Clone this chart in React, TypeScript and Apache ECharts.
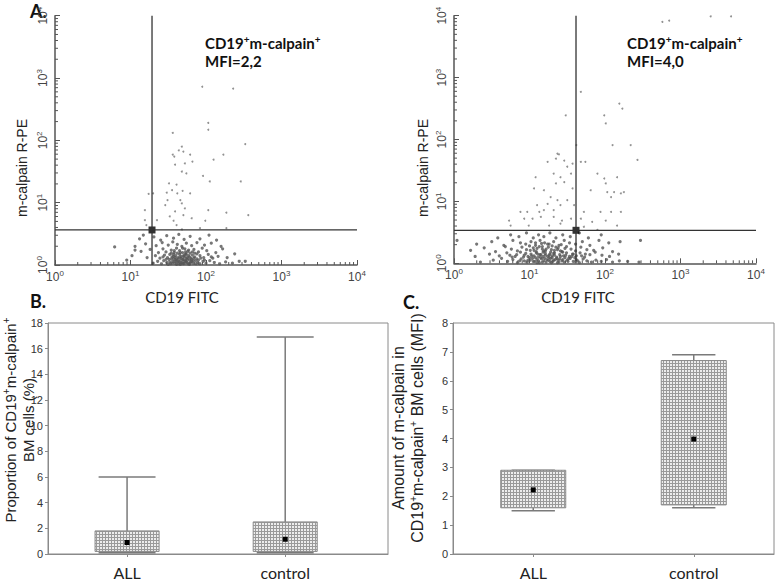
import React, { useEffect, useRef } from "react";
import * as echarts from "echarts";

// ---------- Panel A: flow cytometry events, stored as log10 exponents [log10 CD19 FITC, log10 m-calpain R-PE]
const allGate = [1.285, 0.562];
const controlGate = [1.616, 0.533];

const allEventsDense = [
  [1.30,0.03],[1.36,0.06],[1.41,0.02],[1.44,0.07],[1.48,0.04],[1.51,0.09],[1.53,0.02],[1.56,0.06],[1.58,0.03],[1.60,0.08],
  [1.62,0.05],[1.64,0.02],[1.66,0.07],[1.68,0.04],[1.70,0.09],[1.72,0.03],[1.74,0.06],[1.76,0.02],[1.78,0.08],[1.80,0.05],
  [1.83,0.03],[1.86,0.07],[1.89,0.04],[1.92,0.02],[1.96,0.06],[2.00,0.03],[2.05,0.07],[2.11,0.04],[2.18,0.02],[2.26,0.05],
  [2.35,0.03],[2.44,0.06],
  [1.22,0.12],[1.33,0.15],[1.39,0.11],[1.45,0.16],[1.49,0.12],[1.52,0.17],[1.55,0.13],[1.57,0.10],[1.60,0.15],[1.63,0.12],
  [1.65,0.17],[1.67,0.11],[1.70,0.14],[1.73,0.18],[1.75,0.12],[1.77,0.15],[1.80,0.11],[1.82,0.16],[1.85,0.13],[1.88,0.10],
  [1.92,0.15],[1.97,0.12],[2.03,0.17],[2.09,0.11],[2.16,0.14],[2.28,0.12],
  [1.14,0.22],[1.26,0.25],[1.37,0.20],[1.43,0.26],[1.47,0.21],[1.54,0.24],[1.58,0.20],[1.61,0.27],[1.65,0.23],[1.69,0.20],
  [1.72,0.26],[1.76,0.22],[1.79,0.19],[1.84,0.25],[1.90,0.21],[1.95,0.27],[2.01,0.23],[2.13,0.20],[2.22,0.26],
  [1.06,0.30],[1.20,0.34],[1.34,0.31],[1.42,0.36],[1.50,0.32],[1.56,0.37],[1.62,0.33],[1.68,0.30],[1.74,0.35],[1.81,0.31],
  [1.88,0.36],[1.98,0.32],[2.07,0.35],[2.20,0.30],
  [1.12,0.42],[1.31,0.45],[1.40,0.40],[1.48,0.47],[1.57,0.43],[1.64,0.49],[1.71,0.41],[1.79,0.46],[1.92,0.42],[2.04,0.48],[2.14,0.40],
  [0.79,0.29],[0.95,0.08],[1.06,0.24],[1.17,0.48],[1.02,0.15],[2.52,0.06],[2.38,0.18],
  [1.50,0.01],[1.54,0.10],[1.59,0.12],[1.63,0.08],[1.67,0.14],[1.71,0.06],[1.74,0.10],[1.78,0.01],[1.81,0.09],[1.85,0.19],
  [1.62,0.19],[1.69,0.27],[1.57,0.17],[1.73,0.21],[1.77,0.24],[1.83,0.07],[1.66,0.01],[1.61,0.01],[1.71,0.16],[1.88,0.18],
  [1.52,0.05],[1.55,0.03],[1.57,0.14],[1.59,0.06],[1.61,0.10],[1.64,0.05],[1.65,0.12],[1.67,0.03],[1.69,0.09],[1.70,0.02],
  [1.72,0.13],[1.73,0.07],[1.75,0.04],[1.76,0.10],[1.78,0.13],[1.79,0.03],[1.81,0.06],[1.84,0.11],[1.87,0.02],[1.90,0.08],
  [1.58,0.23],[1.66,0.20],[1.74,0.17],[1.82,0.21],[1.93,0.11],[1.47,0.09],[1.43,0.13],[1.54,0.19],[1.98,0.08],[2.07,0.13]
];

const allEventsSparse = [
  [1.95,2.86],[2.36,2.83],[2.03,2.28],[2.03,2.17],[1.56,2.12],[1.68,1.90],[2.52,1.94],[1.58,1.74],[1.70,1.82],[1.79,1.77],
  [1.59,1.61],[1.72,1.63],[1.68,1.50],[1.74,1.47],[1.82,1.66],[2.10,1.69],[2.23,1.77],[1.96,1.43],[2.05,1.34],[2.46,1.34],
  [1.51,1.31],[1.61,1.29],[1.55,1.20],[1.69,1.19],[1.79,1.15],[1.48,1.16],[1.62,1.15],[1.24,1.14],[1.30,1.15],[1.49,1.04],
  [1.46,0.96],[1.68,0.99],[1.66,1.04],[1.72,0.91],[1.59,0.86],[1.52,0.78],[1.57,0.71],[1.70,0.80],[1.81,0.75],[2.03,0.88],
  [1.99,0.71],[2.27,0.84],[2.56,0.80],[1.19,0.88],[1.19,0.72],[1.35,0.72],[1.68,0.57],[1.92,0.59],[2.27,0.59],[1.61,0.64],
  [1.21,0.64],[1.64,1.84],[1.56,1.77]
];

const controlEventsDense = [
  [0.35,0.02],[0.52,0.05],[0.63,0.08],[0.71,0.03],[0.78,0.06],[0.84,0.01],[0.89,0.07],[0.93,0.04],[0.97,0.02],[1.01,0.05],
  [1.04,0.08],[1.07,0.03],[1.10,0.06],[1.13,0.01],[1.16,0.07],[1.19,0.04],[1.22,0.02],[1.25,0.05],[1.28,0.08],[1.31,0.03],
  [1.34,0.06],[1.37,0.01],[1.40,0.07],[1.43,0.04],[1.46,0.02],[1.50,0.05],[1.54,0.08],[1.58,0.03],[1.62,0.06],[1.66,0.01],
  [1.71,0.07],[1.76,0.04],[1.82,0.02],[1.88,0.05],[1.95,0.03],[2.02,0.06],[2.10,0.02],[2.19,0.04],[2.30,0.03],[2.45,0.02],
  [0.28,0.11],[0.47,0.15],[0.60,0.12],[0.70,0.17],[0.77,0.10],[0.83,0.14],[0.88,0.18],[0.93,0.13],[0.98,0.11],[1.02,0.15],
  [1.06,0.12],[1.09,0.17],[1.12,0.10],[1.15,0.14],[1.18,0.18],[1.21,0.13],[1.24,0.11],[1.27,0.15],[1.30,0.12],[1.33,0.17],
  [1.36,0.10],[1.40,0.14],[1.44,0.18],[1.48,0.13],[1.53,0.11],[1.57,0.15],[1.62,0.12],[1.67,0.17],[1.73,0.10],[1.80,0.14],
  [1.87,0.18],[1.96,0.13],[2.06,0.11],[2.18,0.15],
  [0.22,0.21],[0.40,0.25],[0.55,0.19],[0.68,0.27],[0.76,0.23],[0.84,0.20],[0.90,0.26],[0.96,0.22],[1.01,0.21],[1.05,0.25],
  [1.09,0.19],[1.13,0.27],[1.17,0.23],[1.21,0.20],[1.25,0.26],[1.29,0.22],[1.33,0.21],[1.38,0.25],[1.43,0.19],[1.49,0.27],
  [1.55,0.23],[1.61,0.20],[1.68,0.26],[1.76,0.22],[1.85,0.21],[1.97,0.25],[2.10,0.19],
  [0.04,0.37],[0.30,0.31],[0.50,0.35],[0.66,0.29],[0.78,0.37],[0.88,0.33],[0.95,0.31],[1.02,0.35],[1.08,0.29],[1.14,0.37],
  [1.20,0.33],[1.26,0.31],[1.32,0.35],[1.39,0.29],[1.46,0.37],[1.53,0.33],[1.61,0.31],[1.70,0.35],[1.80,0.29],[1.92,0.37],
  [2.05,0.33],[2.20,0.35],[2.47,0.37],
  [0.58,0.41],[0.75,0.46],[0.86,0.43],[0.96,0.49],[1.05,0.41],[1.12,0.46],[1.19,0.43],[1.27,0.49],[1.35,0.41],[1.44,0.46],
  [1.54,0.43],[1.66,0.49],[1.78,0.41],[1.95,0.46],
  [1.10,0.01],[1.18,0.11],[1.26,0.09],[1.32,0.16],[1.38,0.05],[1.41,0.20],[1.22,0.23],[1.14,0.14],[1.06,0.21],[1.00,0.09],
  [1.29,0.01],[1.35,0.26],[1.45,0.12],[1.52,0.08],[1.17,0.27],[1.24,0.31],[1.08,0.33],[0.95,0.16],[1.47,0.24],[1.58,0.15],
  [0.98,0.05],[1.03,0.12],[1.05,0.03],[1.08,0.09],[1.11,0.15],[1.12,0.04],[1.15,0.09],[1.17,0.02],[1.20,0.08],[1.21,0.16],
  [1.23,0.06],[1.26,0.13],[1.27,0.03],[1.30,0.09],[1.32,0.05],[1.33,0.13],[1.36,0.08],[1.39,0.02],[1.41,0.11],[1.44,0.06],
  [1.47,0.09],[1.49,0.17],[1.51,0.03],[1.56,0.11],[1.60,0.09],[1.64,0.04],[0.92,0.10],[0.87,0.04],[0.81,0.11],[1.10,0.24],
  [1.19,0.20],[1.28,0.18],[1.37,0.22],[1.00,0.28],[1.16,0.32],[1.30,0.28],[1.42,0.30],[1.69,0.12],[1.74,0.15],[0.74,0.13]
];

const controlEventsSparse = [
  [2.76,3.90],[2.85,3.92],[3.40,3.99],[3.67,3.99],
  [1.68,2.77],[1.48,2.39],[2.19,2.58],[2.23,2.50],[1.99,2.39],[2.01,2.26],[2.10,1.91],[2.34,1.91],[1.62,1.91],[2.43,1.67],[1.37,1.77],
  [1.39,1.76],[1.35,1.69],[1.24,1.64],[1.46,1.66],[1.57,1.61],[1.68,1.64],[1.74,1.64],[1.50,1.56],[1.32,1.45],[1.41,1.39],
  [1.55,1.45],[1.08,1.39],[1.35,1.29],[1.46,1.31],[1.06,1.21],[1.19,1.18],[1.57,1.21],[1.81,1.18],[1.90,1.45],[1.99,1.37],
  [2.01,1.29],[2.16,1.39],[2.03,1.15],[2.12,1.15],[2.21,1.13],[2.25,1.15],[2.08,1.07],[1.28,1.07],[1.37,1.02],[1.50,1.02],
  [1.24,0.96],[1.41,0.94],[1.59,0.94],[1.10,0.94],[1.13,0.83],[1.19,0.86],[1.32,0.86],[0.97,0.83],[0.88,0.83],[1.72,0.83],
  [1.94,0.83],[2.08,0.83],[2.21,0.83],[0.93,0.72],[1.04,0.72],[1.15,0.75],[1.32,0.75],[1.43,0.69],[1.55,0.72],[1.68,0.72],
  [1.83,0.67],[2.01,0.69],[0.73,0.69],[0.75,0.61],[0.99,0.61],[1.26,0.61],[1.41,0.64],[1.72,0.59],[1.90,0.54],[2.16,0.61]
];

// ---------- Panels B and C: box plots
const groups = ["ALL", "control"];
// [group position, min, 25%, 75%, max, median]
const proportionBoxes = [
  [1, 0.1, 0.2, 1.8, 6.0, 0.9],
  [2, 0.1, 0.2, 2.5, 16.9, 1.15]
];
const mfiBoxes = [
  [1, 1.5, 1.6, 2.9, 2.9, 2.22],
  [2, 1.6, 1.7, 6.7, 6.9, 3.98]
];
const proportionTicks = { min: 0, max: 18, interval: 2 };
const mfiTicks = { min: 0, max: 8, interval: 1 };

const SANS = "'Liberation Sans', Arial, sans-serif";
const CAL = "Lato, 'Open Sans', sans-serif";

function makePattern() {
  const c = document.createElement("canvas");
  c.width = 3;
  c.height = 3;
  const ctx = c.getContext("2d")!;
  ctx.fillStyle = "#ededed";
  ctx.fillRect(0, 0, 3, 3);
  ctx.fillStyle = "#9a9a9a";
  ctx.fillRect(0, 0, 3, 1);
  ctx.fillRect(0, 0, 1, 3);
  return c;
}

function minorTickRows() {
  const rows: number[][] = [];
  for (let d = 0; d < 4; d++) {
    for (let k = 2; k <= 9; k++) {
      const v = d + Math.log10(k);
      rows.push([v, 0]);
      rows.push([v, 1]);
    }
  }
  return rows;
}

function flowAxes(grid: number) {
  const lineStyle = { color: "#555", width: 1.5 };
  const rich = {
    b: { fontSize: 12, fontFamily: SANS, color: "#444", lineHeight: 16 },
    s: { fontSize: 8, fontFamily: SANS, color: "#444", verticalAlign: "top", lineHeight: 16, padding: [0, 0, 7, 0] }
  };
  const x = {
    gridIndex: grid, type: "value", min: 0, max: 4, interval: 1,
    axisLine: { lineStyle },
    axisTick: { inside: true, length: 5, lineStyle: { color: "#555" } },
    splitLine: { show: false },
    axisLabel: { formatter: (v: number) => `{b|10}{s|${v}}`, rich, margin: 4 }
  };
  const y = {
    gridIndex: grid, type: "value", min: 0, max: 4, interval: 1,
    axisLine: { show: true, lineStyle },
    axisTick: { show: true, inside: true, length: 5, lineStyle: { color: "#555" } },
    splitLine: { show: false },
    axisLabel: { formatter: (v: number) => `{b|10}{s|${v}}`, rich, rotate: 90, margin: 4 }
  };
  return { x, y };
}

function flowSeries(grid: number, dense: number[][], sparse: number[][], gate: number[]) {
  const ticks = minorTickRows();
  return [
    {
      type: "custom", xAxisIndex: grid, yAxisIndex: grid, data: ticks, silent: true,
      renderItem: (_p: any, api: any) => {
        const v = api.value(0);
        const isY = api.value(1) === 1;
        if (!isY) {
          const p = api.coord([v, 0]);
          return { type: "line", shape: { x1: p[0], y1: p[1], x2: p[0], y2: p[1] - 3 }, style: { stroke: "#555", lineWidth: 1 } };
        }
        const p = api.coord([0, v]);
        return { type: "line", shape: { x1: p[0], y1: p[1], x2: p[0] + 3, y2: p[1] }, style: { stroke: "#555", lineWidth: 1 } };
      }
    },
    {
      type: "scatter", xAxisIndex: grid, yAxisIndex: grid, data: dense, symbol: "circle", symbolSize: 3.2,
      itemStyle: { color: "#555" }, silent: true
    },
    {
      type: "scatter", xAxisIndex: grid, yAxisIndex: grid, data: sparse, symbol: "circle", symbolSize: 2,
      itemStyle: { color: "#777" }, silent: true
    },
    {
      type: "line", xAxisIndex: grid, yAxisIndex: grid, data: [[gate[0], 0], [gate[0], 4]], symbol: "none",
      lineStyle: { color: "#333", width: 1.3 }, silent: true
    },
    {
      type: "line", xAxisIndex: grid, yAxisIndex: grid, data: [[0, gate[1]], [4, gate[1]]], symbol: "none",
      lineStyle: { color: "#333", width: 1.3 }, silent: true
    },
    {
      type: "scatter", xAxisIndex: grid, yAxisIndex: grid, data: [gate], symbol: "rect", symbolSize: 7,
      itemStyle: { color: "#000" }, silent: true
    }
  ];
}

function boxSeries(grid: number, data: number[][], pattern: any, capRatio: number) {
  return {
    type: "custom", xAxisIndex: grid, yAxisIndex: grid, data, silent: true,
    encode: { x: 0, y: [1, 2, 3, 4, 5] },
    renderItem: (_p: any, api: any) => {
      const x = api.value(0);
      const unit = api.size([1, 0])[0];
      const bw = unit * 0.405;
      const cw = unit * capRatio;
      const lo = api.coord([x, api.value(1)]);
      const q1 = api.coord([x, api.value(2)]);
      const q3 = api.coord([x, api.value(3)]);
      const hi = api.coord([x, api.value(4)]);
      const md = api.coord([x, api.value(5)]);
      const px = lo[0];
      const wStyle = { stroke: "#7a7a7a", lineWidth: 1.5 };
      return {
        type: "group",
        children: [
          { type: "line", shape: { x1: px, y1: q3[1], x2: px, y2: hi[1] }, style: wStyle },
          { type: "line", shape: { x1: px, y1: q1[1], x2: px, y2: lo[1] }, style: wStyle },
          { type: "line", shape: { x1: px - cw / 2, y1: hi[1], x2: px + cw / 2, y2: hi[1] }, style: wStyle },
          { type: "line", shape: { x1: px - cw / 2, y1: lo[1], x2: px + cw / 2, y2: lo[1] }, style: wStyle },
          {
            type: "rect", shape: { x: px - bw / 2, y: q3[1], width: bw, height: q1[1] - q3[1] },
            style: { fill: pattern, stroke: "#8a8a8a", lineWidth: 1 }
          },
          { type: "rect", shape: { x: md[0] - 2.5, y: md[1] - 2.5, width: 5, height: 5 }, style: { fill: "#000" } }
        ]
      };
    }
  };
}

function boxAxes(grid: number, xmax: number, ticks: { min: number; max: number; interval: number }) {
  const lc = { color: "#8a8a8a" };
  const x = {
    gridIndex: grid, type: "value", min: 0.5, max: xmax,
    axisLine: { lineStyle: lc },
    axisTick: { customValues: [1, 2], inside: false, length: 3, lineStyle: lc },
    splitLine: { show: false },
    axisLabel: {
      customValues: [1, 2], formatter: (v: number) => groups[Math.round(v) - 1] || "",
      fontSize: 16, fontFamily: CAL, color: "#222", margin: 10
    }
  };
  const y = {
    gridIndex: grid, type: "value", min: ticks.min, max: ticks.max, interval: ticks.interval,
    axisLine: { show: true, lineStyle: lc },
    axisTick: { show: true, length: 3, lineStyle: lc },
    splitLine: { show: false },
    axisLabel: { fontSize: 11, fontFamily: SANS, color: "#333", margin: 5 }
  };
  return { x, y };
}

export default function App() {
  const ref = useRef<HTMLDivElement>(null);
  useEffect(() => {
    if (!ref.current) return;
    const chart = echarts.init(ref.current, null, { renderer: "svg" });
    const pattern = { image: makePattern(), repeat: "repeat", imageWidth: 3, imageHeight: 3 };
    const a1 = flowAxes(0);
    const a2 = flowAxes(1);
    const b = boxAxes(2, 2.65, proportionTicks);
    const c = boxAxes(3, 2.5, mfiTicks);
    const sup = { fontSize: 10, fontWeight: "bold", fontFamily: CAL, verticalAlign: "top", padding: [0, 0, 8, 0], lineHeight: 18 };
    const annBase = { fontSize: 15, fontWeight: "bold", fontFamily: CAL, lineHeight: 18 };
    const annotation = (x: number, mfi: string) => [
      {
        type: "text", x, y: 43,
        style: {
          text: "{a|CD19}{s|+}{a|m-calpain}{s|+}", rich: { a: annBase, s: sup },
          verticalAlign: "middle", fill: "#111"
        }
      },
      {
        type: "text", x, y: 61,
        style: { text: mfi, font: `bold 15px ${CAL}`, verticalAlign: "middle", fill: "#111" }
      }
    ];
    const supN = { fontSize: 10, fontFamily: SANS, verticalAlign: "top", padding: [0, 0, 8, 0], lineHeight: 18 };
    const baseN = { fontSize: 15, fontFamily: SANS, lineHeight: 18 };
    const supC = { fontSize: 10, fontFamily: SANS, verticalAlign: "top", padding: [0, 0, 8, 0], lineHeight: 19 };
    const baseC = { fontSize: 16, fontFamily: SANS, lineHeight: 19 };
    chart.setOption({
      animation: false,
      backgroundColor: "#fff",
      grid: [
        { left: 55, top: 15.7, width: 302, height: 249.3 },
        { left: 454, top: 15.7, width: 302, height: 247.6 },
        { left: 48, top: 323, width: 340, height: 231, show: true, borderColor: "#8a8a8a", borderWidth: 1 },
        { left: 453, top: 323, width: 321, height: 232, show: true, borderColor: "#8a8a8a", borderWidth: 1 }
      ],
      xAxis: [a1.x, a2.x, b.x, c.x],
      yAxis: [a1.y, a2.y, b.y, c.y],
      series: [
        ...flowSeries(0, allEventsDense, allEventsSparse, allGate),
        ...flowSeries(1, controlEventsDense, controlEventsSparse, controlGate),
        boxSeries(2, proportionBoxes, pattern, 0.36),
        boxSeries(3, mfiBoxes, pattern, 0.27)
      ],
      graphic: [
        { type: "text", x: 30, y: 11, style: { text: "A.", font: `bold 18px ${CAL}`, verticalAlign: "middle", fill: "#111" } },
        { type: "text", x: 30, y: 301, style: { text: "B.", font: `bold 18px ${CAL}`, verticalAlign: "middle", fill: "#111" } },
        { type: "text", x: 403, y: 302, style: { text: "C.", font: `bold 18px ${CAL}`, verticalAlign: "middle", fill: "#111" } },
        ...annotation(205, "MFI=2,2"),
        ...annotation(627, "MFI=4,0"),
        {
          type: "text", x: 22, y: 168, rotation: Math.PI / 2,
          style: { text: "m-calpain R-PE", font: `14px ${SANS}`, align: "center", verticalAlign: "middle", fill: "#222" }
        },
        {
          type: "text", x: 423, y: 168, rotation: Math.PI / 2,
          style: { text: "m-calpain R-PE", font: `14px ${SANS}`, align: "center", verticalAlign: "middle", fill: "#222" }
        },
        { type: "text", x: 182, y: 297, style: { text: "CD19 FITC", font: `15px ${CAL}`, align: "center", verticalAlign: "middle", fill: "#222" } },
        { type: "text", x: 578, y: 297, style: { text: "CD19 FITC", font: `15px ${CAL}`, align: "center", verticalAlign: "middle", fill: "#222" } },
        {
          type: "text", x: 19, y: 420, rotation: Math.PI / 2,
          style: {
            text: "{a|Proportion of CD19}{s|+}{a|m-calpain}{s|+}\n{a|BM cells (%)}", rich: { a: baseN, s: supN },
            align: "center", verticalAlign: "middle", fill: "#222"
          }
        },
        {
          type: "text", x: 408, y: 428, rotation: Math.PI / 2,
          style: {
            text: "{a|Amount of m-calpain in}\n{a|CD19}{s|+}{a|m-calpain}{s|+}{a| BM cells (MFI)}", rich: { a: baseC, s: supC },
            align: "center", verticalAlign: "middle", fill: "#222"
          }
        }
      ]
    });
    return () => chart.dispose();
  }, []);
  return <div ref={ref} style={{ position: "fixed", left: 0, top: 0, width: 776, height: 580 }} />;
}
